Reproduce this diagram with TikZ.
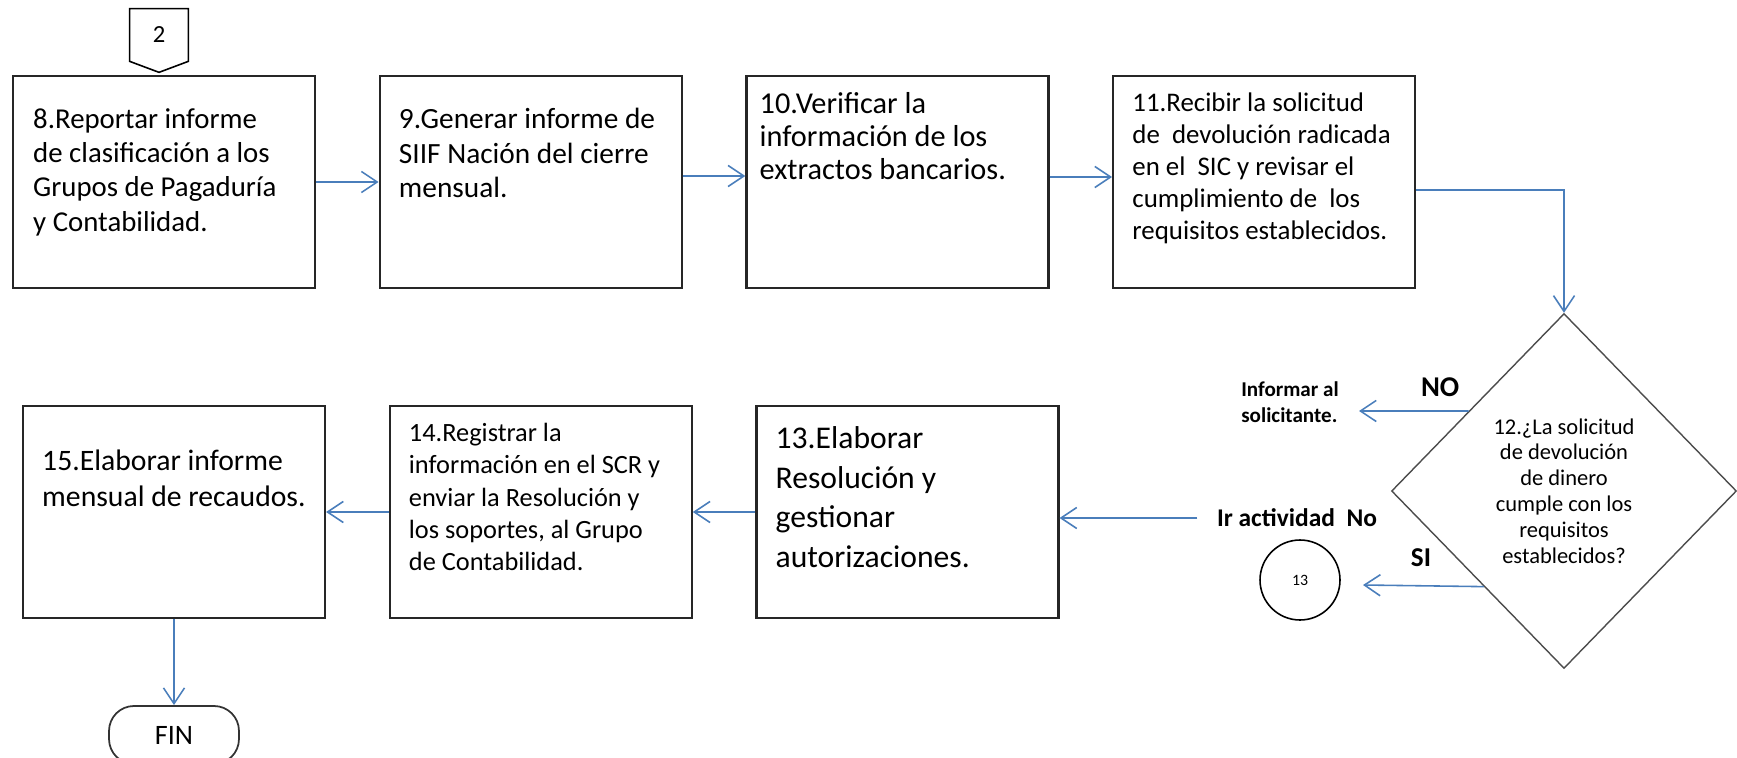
\documentclass[tikz,border=0pt]{standalone}
\usepackage{fontspec}
\setmainfont{Carlito}
\usetikzlibrary{positioning,arrows.meta,shapes.geometric}
\definecolor{flowblue}{HTML}{4A7EBB}
\newcommand{\txtsize}[2]{\fontsize{#1}{#2}\selectfont}

\tikzset{
  stepbox/.style={draw=black!85, line width=1.3pt, minimum width=6.04cm, minimum height=4.24cm, inner sep=0pt},
  boxtxt/.style={anchor=north west, inner sep=0pt, align=left, font=#1},
  flow/.style={draw=flowblue, line width=0.9pt, -{Straight Barb[length=9pt,width=12pt]}},
  lbl/.style={inner sep=0pt},
  decision/.style={diamond, draw=black!70, line width=0.8pt, minimum width=6.9cm, minimum height=7.1cm,
    inner sep=0pt, align=center, font=\txtsize{12.8}{14.7}},
}

\begin{document}
\begin{tikzpicture}[x=0.02cm,y=-0.02cm,node distance=1.25cm]
\useasboundingbox (0,0) rectangle (1737,757);

% first row
\node[stepbox] (b8) at (164,182) {};
\node[stepbox,right=of b8] (b9) {};
\node[stepbox,right=of b9] (b10) {};
\node[stepbox,right=of b10] (b11) {};

\node[boxtxt={\txtsize{16.4}{19.6}}] (t8) at ([shift={(21,33)}]b8.north west)
  {8.Reportar informe\\de clasificación a los\\Grupos de Pagaduría\\y Contabilidad.};
\node[boxtxt={\txtsize{16.7}{19.6}}] (t9) at ([shift={(20,33)}]b9.north west)
  {9.Generar informe de\\SIIF Nación del cierre\\mensual.};
\node[boxtxt={\txtsize{17.25}{18.8}}] (t10) at ([shift={(14,17)}]b10.north west)
  {10.Verificar la\\información de los\\extractos bancarios.};
\node[boxtxt={\txtsize{15.3}{18.1}}] (t11) at ([shift={(20,18)}]b11.north west)
  {11.Recibir la solicitud\\de\ \ devolución radicada\\en el\ \ SIC y revisar el\\cumplimiento de\ \ los\\requisitos establecidos.};

% off-page connector
\node[inner sep=0pt, minimum width=1.16cm, minimum height=1.04cm, font=\txtsize{14}{16}] (off2) at (159,35) {2};
\draw[line width=0.9pt] (off2.north west) -- (off2.north east) -- (off2.south east)
  -- ([yshift=-0.22cm]off2.south) -- (off2.south west) -- cycle;

% decision
\node[decision] (dec) at (1564,491) {12.¿La solicitud\\de devolución\\de dinero\\cumple con los\\requisitos\\establecidos?};
\node[lbl, align=left, font=\bfseries\txtsize{12}{14.7}] (inform) at (1290,402) {Informar al\\solicitante.};
\node[lbl, inner xsep=11pt, font=\bfseries\txtsize{14.5}{17}] (iract) at (1297,518) {Ir actividad\ \ No};
\node[circle, draw, line width=0.9pt, minimum size=1.6cm, font=\txtsize{9}{11}] (c13) at (1300,580) {13};
\coordinate (noend) at (1359,411);
\coordinate (siend) at (1363,585);

% second row
\node[stepbox] (b15) at (174,512) {};
\node[stepbox,right=of b15] (b14) {};
\node[stepbox,right=of b14] (b13) {};
\node[draw=black!80, line width=1pt, rounded corners=0.5cm, minimum width=2.6cm, minimum height=1.16cm,
  font=\txtsize{16}{19}, below=1.72cm of b15] (fin) {FIN};

\node[boxtxt={\txtsize{18}{22.7}}] (t13) at ([shift={(20,21)}]b13.north west)
  {13.Elaborar\\Resolución y\\gestionar\\autorizaciones.};
\node[boxtxt={\txtsize{15}{18.4}}] (t14) at ([shift={(20,18)}]b14.north west)
  {14.Registrar la\\información en el SCR y\\enviar la Resolución y\\los soportes, al Grupo\\de Contabilidad.};
\node[boxtxt={\txtsize{16.9}{20.4}}] (t15) at ([shift={(20,45)}]b15.north west)
  {15.Elaborar informe\\mensual de recaudos.};

% connectors
\draw[flow] (b8) -- (b9);
\draw[flow] ([yshift=0.12cm]b9.east) -- ([yshift=0.12cm]b10.west);
\draw[flow] ([yshift=0.1cm]b10.east) -- ([yshift=0.1cm]b11.west);
\draw[flow] ([yshift=-0.16cm]b11.east) -| (dec.north);
\draw[flow] (dec.140) -- (noend) node[lbl, pos=.26, above=7.5pt, font=\bfseries\txtsize{16.3}{18}] {NO};
\draw[flow] (dec.230) -- (siend) node[lbl, pos=.52, above=10.5pt, font=\bfseries\txtsize{15.5}{18}] {SI};
\draw[flow] (iract.west) -- (iract.west -| b13.east);
\draw[flow] (b13) -- (b14);
\draw[flow] (b14) -- (b15);
\draw[flow] (b15) -- (fin);
\end{tikzpicture}
\end{document}
